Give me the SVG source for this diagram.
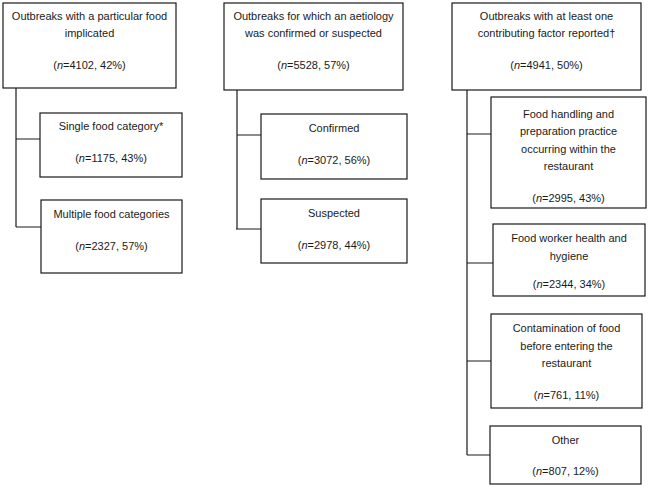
<svg xmlns="http://www.w3.org/2000/svg" width="648" height="487" viewBox="0 0 648 487">
<style>
.box{fill:#fff;stroke:#1a1a1a;stroke-width:1.2}
.ln{fill:none;stroke:#1a1a1a;stroke-width:1.2}
text{font-family:"Liberation Sans",Arial,sans-serif;font-size:11px;fill:#1a1a1a;text-anchor:middle}
.i{font-style:italic}
</style>
<rect width="648" height="487" fill="#fff"/>
<g id="connectors">
<path class="ln" d="M16,88 V227 M16,139 H40 M16,227 H41"/>
<path class="ln" d="M237,90 V229 M237,135 H261 M236,229 H261"/>
<path class="ln" d="M467,90 V455 M467,134 H491 M467,263 H493 M467,361 H491 M467,455 H490"/>
</g>
<g id="n1">
<rect class="box" x="3" y="3" width="173" height="85"/>
<text x="89.5" y="19.5">Outbreaks with a particular food</text>
<text x="89.5" y="36.5">implicated</text>
<text x="89.5" y="68.5">(<tspan class="i">n</tspan>=4102, 42%)</text>
</g>
<g id="n2">
<rect class="box" x="40" y="113" width="142" height="64"/>
<text x="111" y="130">Single food category*</text>
<text x="111" y="162">(<tspan class="i">n</tspan>=1175, 43%)</text>
</g>
<g id="n3">
<rect class="box" x="41" y="200" width="141" height="73"/>
<text x="111.5" y="218">Multiple food categories</text>
<text x="111.5" y="250">(<tspan class="i">n</tspan>=2327, 57%)</text>
</g>
<g id="n4">
<rect class="box" x="224" y="3" width="179" height="87"/>
<text x="313.5" y="19.5">Outbreaks for which an aetiology</text>
<text x="313.5" y="36.5">was confirmed or suspected</text>
<text x="313.5" y="68.5">(<tspan class="i">n</tspan>=5528, 57%)</text>
</g>
<g id="n5">
<rect class="box" x="261" y="114" width="146" height="65"/>
<text x="334" y="132">Confirmed</text>
<text x="334" y="163.5">(<tspan class="i">n</tspan>=3072, 56%)</text>
</g>
<g id="n6">
<rect class="box" x="261" y="199" width="146" height="64"/>
<text x="334" y="217">Suspected</text>
<text x="334" y="248.5">(<tspan class="i">n</tspan>=2978, 44%)</text>
</g>
<g id="n7">
<rect class="box" x="452" y="3" width="189" height="87"/>
<text x="546.5" y="20">Outbreaks with at least one</text>
<text x="546.5" y="37">contributing factor reported†</text>
<text x="546.5" y="69">(<tspan class="i">n</tspan>=4941, 50%)</text>
</g>
<g id="n8">
<rect class="box" x="491" y="97" width="155" height="111"/>
<text x="568.5" y="117.5">Food handling and</text>
<text x="568.5" y="135">preparation practice</text>
<text x="568.5" y="152.5">occurring within the</text>
<text x="568.5" y="169.5">restaurant</text>
<text x="568.5" y="202">(<tspan class="i">n</tspan>=2995, 43%)</text>
</g>
<g id="n9">
<rect class="box" x="493" y="224" width="152" height="72"/>
<text x="569" y="242">Food worker health and</text>
<text x="569" y="259.5">hygiene</text>
<text x="569" y="288">(<tspan class="i">n</tspan>=2344, 34%)</text>
</g>
<g id="n10">
<rect class="box" x="491" y="314" width="151" height="94"/>
<text x="566.5" y="332">Contamination of food</text>
<text x="566.5" y="349.5">before entering the</text>
<text x="566.5" y="366.5">restaurant</text>
<text x="566.5" y="398.5">(<tspan class="i">n</tspan>=761, 11%)</text>
</g>
<g id="n11">
<rect class="box" x="490" y="426" width="151" height="58"/>
<text x="565.5" y="443.5">Other</text>
<text x="565.5" y="475">(<tspan class="i">n</tspan>=807, 12%)</text>
</g>
</svg>
